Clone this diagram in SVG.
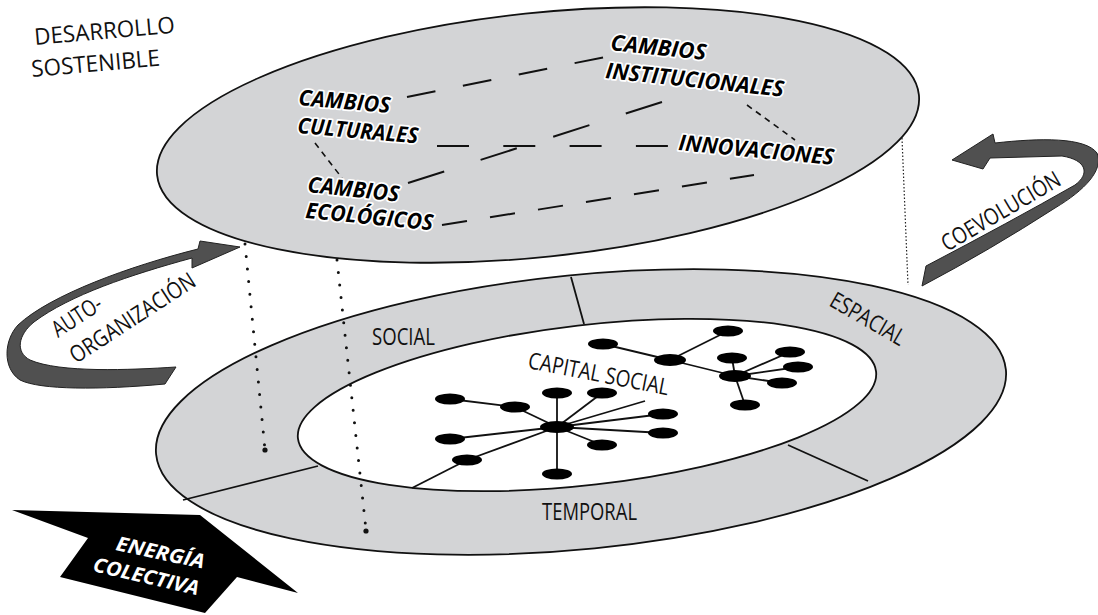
<svg xmlns="http://www.w3.org/2000/svg" width="1098" height="615" viewBox="0 0 1098 615">
<style>
.plane{fill:#d3d4d6;stroke:#111;stroke-width:1.8}
.inner{fill:#fff;stroke:#111;stroke-width:1.8}
.div{stroke:#111;stroke-width:1.8;fill:none}
.t{font-family:"Open Sans","Liberation Sans",sans-serif;font-size:23px;fill:#111}
.b{font-family:"Open Sans","Liberation Sans",sans-serif;font-size:22px;font-weight:bold;font-style:italic;fill:#000;stroke:#fff;stroke-width:3.5;stroke-linejoin:round;paint-order:stroke}
.w{font-family:"Open Sans","Liberation Sans",sans-serif;font-size:20px;font-weight:bold;font-style:italic;fill:#fff}
.dash{stroke:#111;stroke-width:2;fill:none}
.sdash{stroke:#111;stroke-width:1.6;fill:none;stroke-dasharray:6 5}
.edge{stroke:#111;stroke-width:1.8;fill:none}
.node{fill:#000}
.dot{stroke:#111;stroke-width:3;stroke-linecap:round;stroke-dasharray:0 12.6;fill:none}
.fdot{stroke:#222;stroke-width:1.2;stroke-dasharray:1.5 2;fill:none}
.band{fill:#505050;stroke:#222;stroke-width:1}
</style>

<g id="plano-superior">
  <ellipse class="plane" cx="538" cy="135" rx="383" ry="122" transform="rotate(-6 538 135)"/>
</g>

<g id="plano-inferior">
  <ellipse class="plane" cx="581" cy="412" rx="427" ry="137" transform="rotate(-5.7 581 412)"/>
  <ellipse class="inner" cx="587" cy="405" rx="291" ry="80" transform="rotate(-6.6 587 405)"/>
  <line class="div" x1="571" y1="277" x2="584" y2="324"/>
  <line class="div" x1="183" y1="500" x2="318" y2="466"/>
  <line class="div" x1="788" y1="445" x2="868" y2="481"/>
</g>

<g id="connectors">
  <line class="dash" x1="407" y1="97" x2="605" y2="57" stroke-dasharray="29 28"/>
  <line class="dash" x1="437" y1="146" x2="668" y2="146" stroke-dasharray="32 34.3"/>
  <line class="dash" x1="408" y1="183" x2="662" y2="102" stroke-dasharray="38 38.2"/>
  <line class="dash" x1="442" y1="225" x2="754" y2="175" stroke-dasharray="25.3 23.3"/>
  <line class="sdash" x1="315" y1="143" x2="342" y2="178"/>
  <line class="sdash" x1="747" y1="105" x2="795" y2="140"/>
  <g id="red-enlaces">
    <line class="edge" x1="450" y1="399" x2="515" y2="407"/>
    <line class="edge" x1="515" y1="407" x2="557" y2="427"/>
    <line class="edge" x1="557" y1="427" x2="557" y2="393"/>
    <line class="edge" x1="557" y1="427" x2="557" y2="474"/>
    <line class="edge" x1="557" y1="427" x2="602" y2="393"/>
    <line class="edge" x1="557" y1="427" x2="645" y2="401"/>
    <line class="edge" x1="557" y1="427" x2="663" y2="414"/>
    <line class="edge" x1="557" y1="427" x2="663" y2="433"/>
    <line class="edge" x1="557" y1="427" x2="602" y2="445"/>
    <line class="edge" x1="557" y1="427" x2="450" y2="439"/>
    <line class="edge" x1="557" y1="427" x2="467" y2="460"/>
    <line class="edge" x1="467" y1="460" x2="412" y2="488"/>
    <line class="edge" x1="603" y1="344" x2="670" y2="360"/>
    <line class="edge" x1="670" y1="360" x2="728" y2="331"/>
    <line class="edge" x1="670" y1="360" x2="735" y2="376"/>
    <line class="edge" x1="735" y1="376" x2="732" y2="358"/>
    <line class="edge" x1="735" y1="376" x2="790" y2="352"/>
    <line class="edge" x1="735" y1="376" x2="798" y2="367"/>
    <line class="edge" x1="735" y1="376" x2="782" y2="383"/>
    <line class="edge" x1="735" y1="376" x2="745" y2="405"/>
  </g>
  <line class="dot" x1="245" y1="244" x2="265" y2="450"/>
  <line class="dot" x1="337" y1="260" x2="366" y2="530"/>
  <circle cx="265" cy="450" r="2.6" fill="#111"/>
  <circle cx="366" cy="531" r="2.6" fill="#111"/>
  <line class="fdot" x1="902" y1="138" x2="908" y2="285"/>
</g>

<g id="red-nodos">
  <ellipse class="node" cx="450" cy="399" rx="15" ry="5.5"/>
  <ellipse class="node" cx="515" cy="407" rx="15" ry="5.5"/>
  <ellipse class="node" cx="557" cy="393" rx="15" ry="5.5"/>
  <ellipse class="node" cx="602" cy="393" rx="15" ry="5.5"/>
  <ellipse class="node" cx="663" cy="414" rx="15" ry="5.5"/>
  <ellipse class="node" cx="663" cy="433" rx="15" ry="5.5"/>
  <ellipse class="node" cx="602" cy="445" rx="15" ry="5.5"/>
  <ellipse class="node" cx="557" cy="474" rx="15" ry="5.5"/>
  <ellipse class="node" cx="467" cy="460" rx="15" ry="5.5"/>
  <ellipse class="node" cx="450" cy="439" rx="15" ry="5.5"/>
  <ellipse class="node" cx="557" cy="427" rx="17" ry="6"/>
  <ellipse class="node" cx="603" cy="344" rx="15" ry="5.5"/>
  <ellipse class="node" cx="670" cy="360" rx="16" ry="6"/>
  <ellipse class="node" cx="728" cy="331" rx="15" ry="5.5"/>
  <ellipse class="node" cx="732" cy="358" rx="15" ry="5.5"/>
  <ellipse class="node" cx="735" cy="376" rx="16" ry="6"/>
  <ellipse class="node" cx="790" cy="352" rx="15" ry="5.5"/>
  <ellipse class="node" cx="798" cy="367" rx="15" ry="5.5"/>
  <ellipse class="node" cx="782" cy="383" rx="15" ry="5.5"/>
  <ellipse class="node" cx="745" cy="405" rx="15" ry="5.5"/>
</g>

<g id="flecha-autoorganizacion">
  <path class="band" d="M240,247 L200,241 L198,249 C130,266 50,295 18,325 C4,340 2,368 20,380 C40,390 100,390 165,384 L176,367 C130,370 60,373 30,360 C15,352 18,335 34,322 C70,295 130,275 192,258 L192,268 Z"/>
  <text class="t" transform="translate(58,338) rotate(-33)" textLength="55" lengthAdjust="spacingAndGlyphs">AUTO-</text>
  <text class="t" transform="translate(76,364) rotate(-33)" textLength="145" lengthAdjust="spacingAndGlyphs">ORGANIZACIÓN</text>
</g>

<g id="flecha-coevolucion">
  <path class="band" d="M922,286 L926,266 Q1010,222 1075,185 C1090,174 1087,160 1062,156 L990,158 L983,169 L952,160 L993,134 L995,143 C1040,138 1085,137 1097,153 C1104,170 1085,190 1055,208 Q990,250 922,286 Z"/>
  <text class="t" transform="translate(947,252) rotate(-30.4)" textLength="134" lengthAdjust="spacingAndGlyphs">COEVOLUCIÓN</text>
</g>

<g id="flecha-energia">
  <polygon points="12,510 200,515 298,593 237,577 205,613 60,577 88,538" fill="#000"/>
  <text class="w" transform="translate(115,550) rotate(12)" textLength="90" lengthAdjust="spacingAndGlyphs">ENERGÍA</text>
  <text class="w" transform="translate(92,571) rotate(13)" textLength="108" lengthAdjust="spacingAndGlyphs">COLECTIVA</text>
</g>

<g id="titulo">
  <text class="t" transform="translate(35,45) rotate(-5)" textLength="141" lengthAdjust="spacingAndGlyphs">DESARROLLO</text>
  <text class="t" transform="translate(32,77) rotate(-5)" textLength="129" lengthAdjust="spacingAndGlyphs">SOSTENIBLE</text>
</g>

<g id="cambios-culturales">
  <text class="b" transform="translate(298,105) rotate(5)" textLength="92" lengthAdjust="spacingAndGlyphs">CAMBIOS</text>
  <text class="b" transform="translate(297,133) rotate(5)" textLength="121" lengthAdjust="spacingAndGlyphs">CULTURALES</text>
</g>
<g id="cambios-ecologicos">
  <text class="b" transform="translate(307,192) rotate(6)" textLength="92" lengthAdjust="spacingAndGlyphs">CAMBIOS</text>
  <text class="b" transform="translate(305,218) rotate(5.5)" textLength="128" lengthAdjust="spacingAndGlyphs">ECOLÓGICOS</text>
</g>
<g id="cambios-institucionales">
  <text class="b" transform="translate(610,50) rotate(6)" textLength="96" lengthAdjust="spacingAndGlyphs">CAMBIOS</text>
  <text class="b" transform="translate(605,78) rotate(6)" textLength="179" lengthAdjust="spacingAndGlyphs">INSTITUCIONALES</text>
</g>
<g id="innovaciones">
  <text class="b" transform="translate(678,150) rotate(5.5)" textLength="156" lengthAdjust="spacingAndGlyphs">INNOVACIONES</text>
</g>

<g id="dimensiones">
  <text class="t" x="372" y="345" textLength="63" lengthAdjust="spacingAndGlyphs">SOCIAL</text>
  <text class="t" x="542" y="520" textLength="95" lengthAdjust="spacingAndGlyphs">TEMPORAL</text>
  <text class="t" transform="translate(828,305) rotate(30)" textLength="83" lengthAdjust="spacingAndGlyphs">ESPACIAL</text>
  <text class="t" transform="translate(527,368) rotate(11)" textLength="143" lengthAdjust="spacingAndGlyphs">CAPITAL SOCIAL</text>
</g>
</svg>
